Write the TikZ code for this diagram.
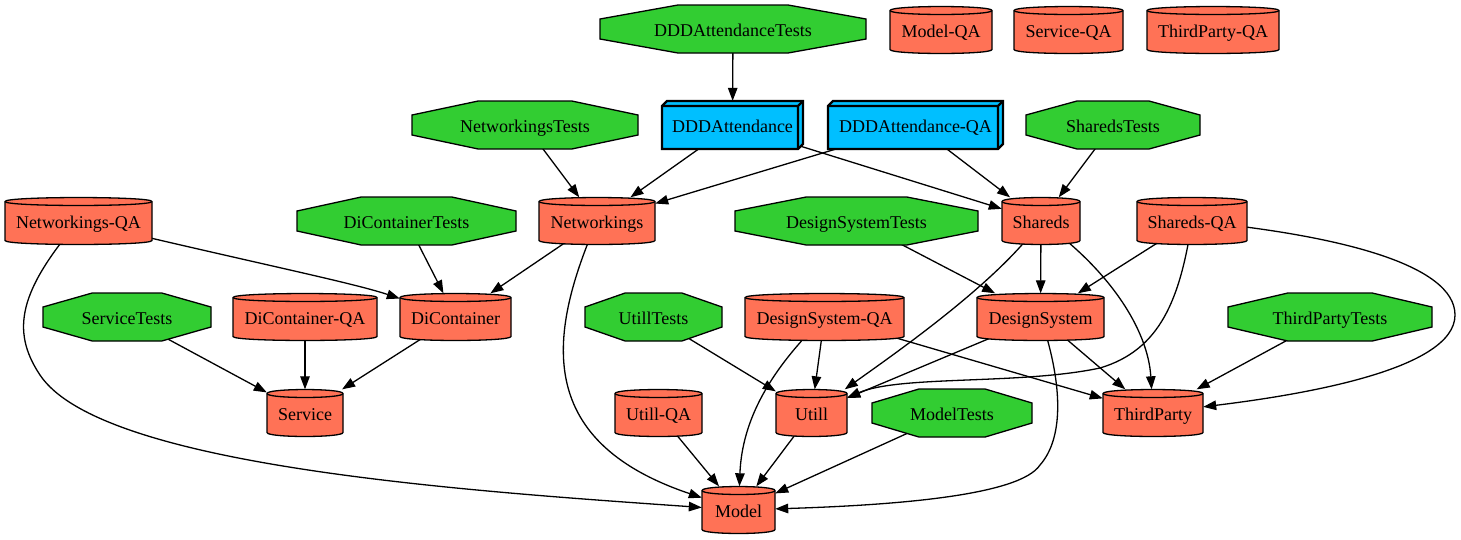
\documentclass[tikz,border=0pt]{standalone}
\usepackage{fontspec}
\setmainfont{Liberation Serif}
\usetikzlibrary{arrows.meta}
\pgfdeclarelayer{edges}
\pgfsetlayers{edges,main}
\definecolor{testgreen}{HTML}{32CD32}
\definecolor{modcol}{HTML}{FF7256}
\definecolor{appblue}{HTML}{00BFFF}
\tikzset{
  lbl/.style={inner sep=0pt, font=\fontsize{18}{20}\selectfont, text=black, text height=18pt, text depth=4pt},
  octshape/.style={fill=testgreen, draw=black, line width=1.3pt, line join=miter},
  cylshape/.style={fill=modcol, draw=black, line width=1.3pt},
  cylline/.style={draw=black, line width=1.3pt},
  boxshape/.style={fill=appblue, draw=black, line width=2.4pt, line join=miter},
  boxline/.style={draw=black, line width=2.4pt, line join=miter},
  dep/.style={draw=black, line width=1.3pt, -{Triangle[length=13pt,width=9.5pt]}},
}
\newcommand\octnode[5]{%
  \pgfmathsetmacro\myhw{#4/2}%
  \pgfmathsetmacro\myc{0.293*#4}%
  \path[octshape] ({#2-\myhw},{#3-10}) -- ({#2-\myhw+\myc},{#3-24}) -- ({#2+\myhw-\myc},{#3-24}) -- ({#2+\myhw},{#3-10}) -- ({#2+\myhw},{#3+10}) -- ({#2+\myhw-\myc},{#3+24}) -- ({#2-\myhw+\myc},{#3+24}) -- ({#2-\myhw},{#3+10}) -- cycle;%
  \node[lbl, minimum width=#4, minimum height=48] (#1) at (#2,#3) {#5};}
\newcommand\cylnode[5]{%
  \pgfmathsetmacro\myhw{#4/2}%
  \path[cylshape] ({#2-\myhw},{#3-19.5}) -- ({#2-\myhw},{#3+19.5}) .. controls ({#2-\myhw},{#3+24.8}) and ({#2+\myhw},{#3+24.8}) .. ({#2+\myhw},{#3+19.5}) -- ({#2+\myhw},{#3-19.5}) .. controls ({#2+\myhw},{#3-24.8}) and ({#2-\myhw},{#3-24.8}) .. ({#2-\myhw},{#3-19.5}) -- cycle;%
  \draw[cylline] ({#2-\myhw},{#3-19.5}) .. controls ({#2-\myhw},{#3-14.2}) and ({#2+\myhw},{#3-14.2}) .. ({#2+\myhw},{#3-19.5});%
  \node[lbl, minimum width=#4, minimum height=47] (#1) at (#2,#3) {#5};}
\newcommand\boxnode[5]{%
  \pgfmathsetmacro\myL{#2-#4/2}%
  \pgfmathsetmacro\myR{#2+#4/2}%
  \path[boxshape] (\myL,{#3-19}) -- ({\myL+5},{#3-24}) -- (\myR,{#3-24}) -- (\myR,{#3+19}) -- ({\myR-5},{#3+24}) -- (\myL,{#3+24}) -- cycle;%
  \draw[boxline] (\myL,{#3-19}) -- ({\myR-5},{#3-19}) -- ({\myR-5},{#3+24}) ({\myR-5},{#3-19}) -- (\myR,{#3-24});%
  \node[lbl, minimum width=#4, minimum height=48] (#1) at (#2,#3) {#5};}
\begin{document}
\begin{tikzpicture}[x=1pt,y=-1pt]
\useasboundingbox (0,0) rectangle (1461,539);
% octagons (test targets)
\octnode{DDDT}{733}{29}{266}{DDDAttendanceTests}
\octnode{NT}{525}{125}{226}{NetworkingsTests}
\octnode{ST}{1113}{125}{174}{SharedsTests}
\octnode{DCT}{406.5}{221}{219}{DiContainerTests}
\octnode{DST}{856.5}{221}{243}{DesignSystemTests}
\octnode{SvT}{127}{317}{168}{ServiceTests}
\octnode{UT}{653.5}{317}{137}{UtillTests}
\octnode{TPT}{1330}{317}{204}{ThirdPartyTests}
\octnode{MT}{952}{413}{160}{ModelTests}
% cylinders (frameworks)
\cylnode{MQA}{941}{30}{102}{Model-QA}
\cylnode{SQA}{1068.5}{30}{109}{Service-QA}
\cylnode{TPQA}{1213}{30}{132}{ThirdParty-QA}
\cylnode{NQA}{78.5}{221}{147}{Networkings-QA}
\cylnode{Net}{597}{221}{116}{Networkings}
\cylnode{Sh}{1041}{221}{78}{Shareds}
\cylnode{ShQA}{1192}{221}{110}{Shareds-QA}
\cylnode{DCQA}{305}{317}{144}{DiContainer-QA}
\cylnode{DC}{455.5}{317}{111}{DiContainer}
\cylnode{DSQA}{824.5}{317}{159}{DesignSystem-QA}
\cylnode{DS}{1040.5}{317}{127}{DesignSystem}
\cylnode{Svc}{305}{413}{76}{Service}
\cylnode{UQA}{658.5}{413}{87}{Utill-QA}
\cylnode{U}{811.5}{413}{71}{Utill}
\cylnode{TP}{1153}{413}{100}{ThirdParty}
\cylnode{M}{738.5}{510}{73}{Model}
% 3d boxes (apps)
\boxnode{DA}{732.5}{125}{141}{DDDAttendance}
\boxnode{DAQA}{915.5}{125}{175}{DDDAttendance-QA}
\begin{pgfonlayer}{edges}
\fill[white] (0,0) rectangle (1461,539);
\draw[dep] (DDDT.center) -- (DA);
\draw[dep] (NT.center) -- (Net);
\draw[dep] (DA.center) -- (Net);
\draw[dep] (DAQA.center) -- (Net);
\draw[dep] (DA.center) -- (Sh);
\draw[dep] (DAQA.center) -- (Sh);
\draw[dep] (ST.center) -- (Sh);
\draw[dep] (NQA.center) .. controls (250,262) and (350,282) .. (DC);
\draw[dep] (NQA.center) .. controls (20,290) and (10,330) .. (40,375) .. controls (100,465) and (450,490) .. (M);
\draw[dep] (DCT.center) -- (DC);
\draw[dep] (Net.center) -- (DC);
\draw[dep] (Net.center) .. controls (550,330) and (530,440) .. (M);
\draw[dep] (DST.center) -- (DS);
\draw[dep] (Sh.center) -- (DS);
\draw[dep] (Sh.center) .. controls (1000,280) and (900,350) .. (U);
\draw[dep] (Sh.center) .. controls (1110,270) and (1148,330) .. (TP);
\draw[dep] (ShQA.center) -- (DS);
\draw[dep] (ShQA.center) .. controls (1180,300) and (1160,350) .. (1100,368) .. controls (1020,385) and (900,375) .. (U);
\draw[dep] (ShQA.center) .. controls (1340,235) and (1455,265) .. (1455,315) .. controls (1455,370) and (1300,395) .. (TP);
\draw[dep] (SvT.center) -- (Svc);
\draw[dep] (DCQA.center) -- (Svc);
\draw[dep] (DC.center) -- (Svc);
\draw[dep] (UT.center) -- (U);
\draw[dep] (DSQA.center) -- (U);
\draw[dep] (DSQA.center) .. controls (770,370) and (742,420) .. (M);
\draw[dep] (DSQA.center) -- (TP);
\draw[dep] (DS.center) -- (U);
\draw[dep] (DS.center) -- (TP);
\draw[dep] (DS.center) .. controls (1065,390) and (1062,440) .. (1040,465) .. controls (1020,495) and (900,505) .. (M);
\draw[dep] (TPT.center) -- (TP);
\draw[dep] (UQA.center) -- (M);
\draw[dep] (U.center) -- (M);
\draw[dep] (MT.center) -- (M);
\end{pgfonlayer}
\end{tikzpicture}
\end{document}
